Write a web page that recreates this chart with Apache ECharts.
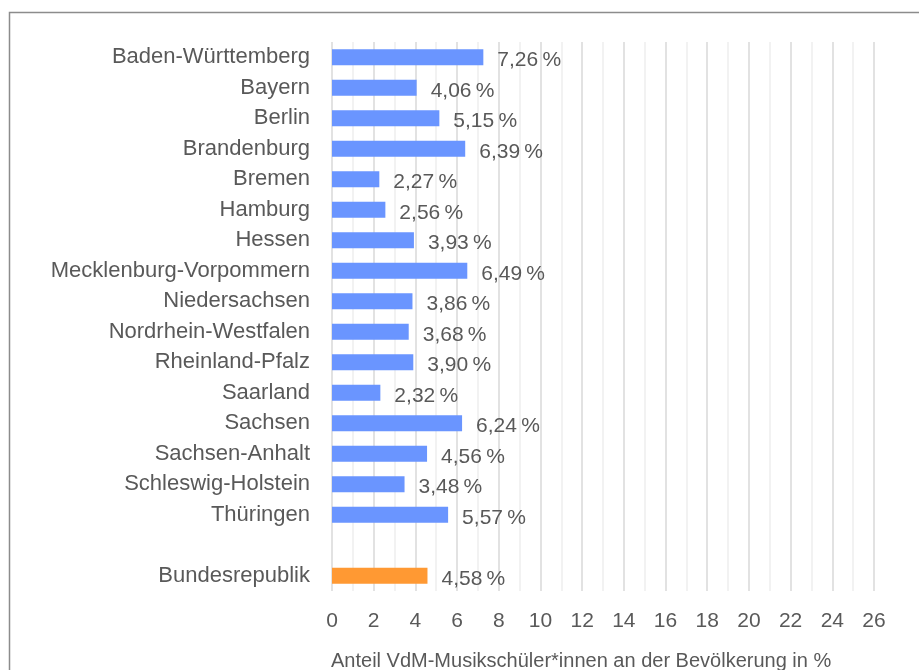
<!DOCTYPE html>
<html>
<head>
<meta charset="utf-8">
<script src="https://cdn.jsdelivr.net/npm/echarts@6/dist/echarts.min.js"></script>
<style>
html,body{margin:0;padding:0;background:#fff;}
#main{width:919px;height:670px;}
</style>
</head>
<body>
<div id="main"></div>
<script>
// Bundesländer, leere Zeile vor Bundesrepublik
var laender = ['Baden-Württemberg','Bayern','Berlin','Brandenburg','Bremen','Hamburg','Hessen',
	'Mecklenburg-Vorpommern','Niedersachsen','Nordrhein-Westfalen','Rheinland-Pfalz','Saarland',
	'Sachsen','Sachsen-Anhalt','Schleswig-Holstein','Thüringen','','Bundesrepublik'];
var anteil = [7.26,4.06,5.15,6.39,2.27,2.56,3.93,6.49,3.86,3.68,3.90,2.32,6.24,4.56,3.48,5.57,null,4.58];
var achsenTitel = 'Anteil VdM-Musikschüler*innen an der Bevölkerung in %';

var blau = '#6a95ff', orange = '#ff9933', grau = '#595959';
var schrift = '"Liberation Sans", Arial, sans-serif';
var groesse = 21;

var werte = anteil.map(function(v, i){
	if (v === null) return null;
	return laender[i] === 'Bundesrepublik' ? {value: v, itemStyle: {color: orange}} : v;
});

var myChart = echarts.init(document.getElementById('main'));
myChart.setOption({
	animation: false,
	textStyle: {fontFamily: schrift},
	title: {
		text: achsenTitel,
		left: 326, top: 646,
		textStyle: {fontSize: 20, fontWeight: 'normal', color: grau, fontFamily: schrift}
	},
	graphic: [{
		type: 'rect',
		shape: {x: 9.5, y: 12.5, width: 930, height: 680},
		style: {fill: null, stroke: '#8c8c8c', lineWidth: 1.5}
	}],
	grid: {left: 332, right: 45, top: 42, bottom: 79},
	xAxis: {
		type: 'value', min: 0, max: 26, interval: 2,
		axisLine: {show: false}, axisTick: {show: false},
		axisLabel: {color: grau, fontSize: groesse, margin: 20, fontFamily: schrift},
		splitLine: {lineStyle: {color: '#d9d9d9', width: 1.5}},
		minorTick: {show: false, splitNumber: 2},
		minorSplitLine: {show: true, lineStyle: {color: '#eeeeee', width: 1.5}}
	},
	yAxis: {
		type: 'category', data: laender, inverse: true,
		axisLine: {show: false}, axisTick: {show: false},
		axisLabel: {color: grau, fontSize: 22, margin: 22, fontFamily: schrift}
	},
	series: [{
		type: 'bar', data: werte, barWidth: 16,
		itemStyle: {color: blau},
		label: {
			show: true, position: 'right', distance: 14, offset: [0, 3],
			color: grau, fontSize: groesse, fontFamily: schrift,
			formatter: function(p){ return p.value.toFixed(2).replace('.', ',') + '\u2009%'; }
		}
	}]
});
</script>
</body>
</html>
